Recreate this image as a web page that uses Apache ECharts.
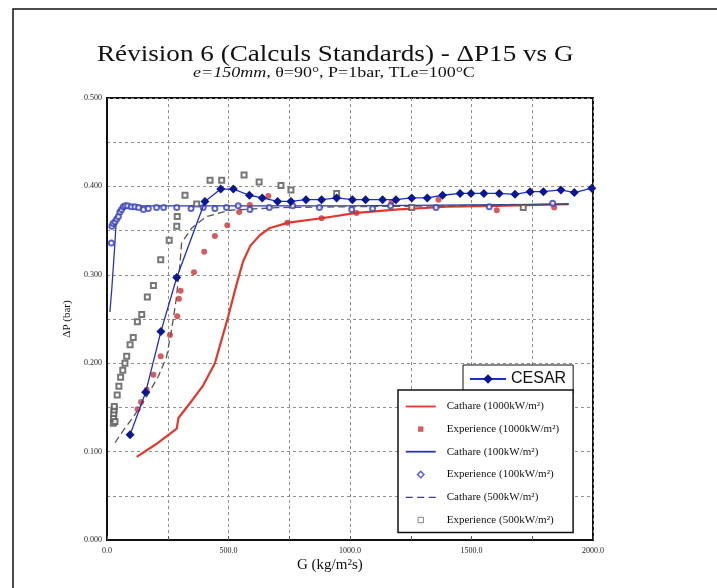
<!DOCTYPE html>
<html>
<head>
<meta charset="utf-8">
<script src="https://cdn.jsdelivr.net/npm/echarts@6/dist/echarts.min.js"></script>
<style>
  html, body { margin: 0; padding: 0; background: #fff; }
  #chart { width: 717px; height: 588px; }
</style>
</head>
<body>
<div id="chart"></div>
<script>
// G (kg/m2s) / dP (bar)
const cesarG = [95, 159, 222, 287, 403, 468, 520, 586, 639, 702, 757, 819, 883, 945, 1010, 1064, 1134, 1189, 1254, 1318, 1381, 1453, 1498, 1551, 1614, 1679, 1741, 1796, 1868, 1923, 1995]
const cesarP = [0.119, 0.167, 0.236, 0.297, 0.383, 0.397, 0.397, 0.390, 0.387, 0.383, 0.383, 0.385, 0.385, 0.387, 0.385, 0.385, 0.385, 0.385, 0.387, 0.387, 0.390, 0.392, 0.392, 0.392, 0.392, 0.391, 0.394, 0.394, 0.396, 0.393, 0.398]

const cath1000G = [122, 200, 287, 294, 342, 396, 444, 499, 534, 560, 590, 630, 671, 746, 883, 1027, 1200, 1400, 1600, 1900]
const cath1000P = [0.094, 0.108, 0.126, 0.138, 0.155, 0.175, 0.200, 0.253, 0.290, 0.315, 0.333, 0.345, 0.353, 0.359, 0.364, 0.370, 0.374, 0.377, 0.378, 0.380]

const exp1000G = [126, 140, 163, 191, 221, 259, 289, 296, 303, 358, 400, 444, 495, 544, 588, 664, 742, 883, 1027, 1171, 1364, 1604, 1840]
const exp1000P = [0.148, 0.156, 0.170, 0.187, 0.208, 0.232, 0.253, 0.273, 0.282, 0.303, 0.326, 0.344, 0.356, 0.371, 0.379, 0.389, 0.359, 0.364, 0.370, 0.382, 0.385, 0.373, 0.376]

const cath100G = [12, 20, 30, 38, 45, 60, 100, 300, 600, 1000, 1500, 1900]
const cath100P = [0.258, 0.285, 0.325, 0.360, 0.372, 0.377, 0.378, 0.378, 0.378, 0.378, 0.379, 0.380]

const exp100G = [18, 20, 25, 33, 40, 47, 53, 60, 67, 75, 85, 100, 115, 130, 150, 170, 204, 233, 287, 346, 396, 444, 492, 540, 588, 668, 764, 874, 1007, 1093, 1167, 1354, 1573, 1834]
const exp100P = [0.336, 0.355, 0.358, 0.360, 0.363, 0.366, 0.371, 0.374, 0.377, 0.378, 0.378, 0.377, 0.377, 0.376, 0.374, 0.375, 0.376, 0.376, 0.376, 0.375, 0.376, 0.375, 0.376, 0.378, 0.374, 0.376, 0.378, 0.376, 0.374, 0.375, 0.378, 0.376, 0.377, 0.381]

const cath500G = [33, 67, 108, 163, 211, 245, 266, 284, 298, 307, 349, 410, 506, 700, 1000, 1400, 1900]
const cath500P = [0.110, 0.124, 0.139, 0.162, 0.185, 0.207, 0.238, 0.271, 0.305, 0.336, 0.353, 0.366, 0.373, 0.376, 0.377, 0.378, 0.380]

const exp500G = [26, 27, 28, 29, 30, 33, 42, 49, 56, 65, 74, 81, 95, 108, 125, 143, 166, 191, 221, 256, 287, 289, 321, 369, 424, 472, 564, 626, 716, 757, 945, 1254, 1713]
const exp500P = [0.132, 0.138, 0.143, 0.147, 0.151, 0.134, 0.164, 0.174, 0.184, 0.192, 0.200, 0.208, 0.221, 0.229, 0.247, 0.255, 0.275, 0.288, 0.317, 0.339, 0.355, 0.366, 0.390, 0.380, 0.407, 0.407, 0.413, 0.405, 0.401, 0.396, 0.392, 0.376, 0.376]

const legendNames = [
  'Cathare (1000kW/m²)',
  'Experience (1000kW/m²)',
  'Cathare (100kW/m²)',
  'Experience (100kW/m²)',
  'Cathare (500kW/m²)',
  'Experience (500kW/m²)'
]

const serif = 'Liberation Serif'
const zip = (xs, ys) => xs.map((x, i) => [x, ys[i]])

// legend icons: the two leading moveTo's pin the box to 30x10 so nothing gets stretched
const box = 'path://M0,0M30,10'
const iconLine = box + 'M0,4.1h30v1.8h-30z'
const iconDash = box + 'M0,4.3h7v1.4h-7zM11.5,4.3h7v1.4h-7zM23,4.3h7v1.4h-7z'
const iconSquare = box + 'M12.3,2.3h5.4v5.4h-5.4z'
const iconDiamond = box + 'M15,1.8l3.2,3.2l-3.2,3.2l-3.2,-3.2z'

const chart = echarts.init(document.getElementById('chart'))
const option = {
  backgroundColor: '#fff',
  animation: false,
  graphic: [
    {
      type: 'rect',
      shape: { x: 13, y: 9, width: 720, height: 600 },
      style: { fill: 'none', stroke: '#111', lineWidth: 1.5 },
      silent: true
    },
    {
      type: 'text',
      x: 97, y: 43, scaleX: 1.18,
      style: { text: 'Révision 6 (Calculs Standards) - ΔP15 vs G', font: '23px "Liberation Serif"', fill: '#111' }
    },
    {
      type: 'text',
      x: 193, y: 66, scaleX: 1.2,
      style: {
        text: '{i|e=150mm}, θ=90°, P=1bar, TLe=100°C',
        font: '15px "Liberation Serif"',
        fill: '#111',
        rich: { i: { fontStyle: 'italic', fontFamily: serif, fontSize: 15, fill: '#111' } }
      }
    },
    {
      type: 'text',
      left: 297, top: 558,
      style: { text: 'G (kg/m²s)', font: '15px "Liberation Serif"', fill: '#111' }
    }
  ],
  legend: [
    {
      data: ['CESAR'],
      left: 463, top: 365,
      backgroundColor: '#fff',
      borderColor: '#111', borderWidth: 1,
      padding: [6, 7, 6, 6],
      itemWidth: 36, itemHeight: 12,
      textStyle: { fontFamily: 'Liberation Sans', fontSize: 16, color: '#111' }
    },
    {
      data: [
        { name: legendNames[0], icon: iconLine, itemStyle: { color: '#e0392b', borderWidth: 0 } },
        { name: legendNames[1], icon: iconSquare, itemStyle: { color: '#c8353a', borderWidth: 0 } },
        { name: legendNames[2], icon: iconLine, itemStyle: { color: '#2a35b0', borderWidth: 0 } },
        { name: legendNames[3], icon: iconDiamond, itemStyle: { color: '#fff', borderColor: '#3540b5', borderWidth: 1.5 } },
        { name: legendNames[4], icon: iconDash, itemStyle: { color: '#3a3f88', borderWidth: 0 } },
        { name: legendNames[5], icon: iconSquare, itemStyle: { color: '#fff', borderColor: '#666', borderWidth: 1 } }
      ],
      orient: 'vertical',
      left: 398, top: 390,
      backgroundColor: '#fff',
      borderColor: '#111', borderWidth: 1.5,
      padding: [11, 14, 7, 7],
      itemGap: 11.6,
      itemWidth: 30, itemHeight: 10,
      textStyle: { fontFamily: serif, fontSize: 11, color: '#111', padding: [0, 0, 0, 6] }
    }
  ],
  grid: { left: 107, right: 124, top: 98, bottom: 48, show: true, borderColor: '#111', borderWidth: 2, containLabel: false },
  xAxis: {
    type: 'value', min: 0, max: 2000, interval: 250,
    axisLine: { show: true, lineStyle: { color: '#111', width: 2 } },
    axisTick: { show: true, inside: true, length: 4, lineStyle: { color: '#555' } },
    axisLabel: {
      fontFamily: serif, fontSize: 8, color: '#222', margin: 7,
      formatter: v => (v % 500 === 0 ? v.toFixed(1) : '')
    },
    splitLine: { show: true, lineStyle: { color: '#8f8f8f', type: [3, 3], width: 1 } }
  },
  yAxis: {
    type: 'value', min: 0, max: 0.5, interval: 0.05,
    name: 'ΔP (bar)', nameLocation: 'middle', nameGap: 32, nameRotate: 90,
    nameTextStyle: { fontFamily: serif, fontSize: 11, color: '#111' },
    axisLine: { show: true, lineStyle: { color: '#111', width: 2 } },
    axisTick: { show: false },
    axisLabel: {
      fontFamily: serif, fontSize: 8, color: '#222', margin: 5,
      formatter: v => (Math.round(v * 100) % 10 === 0 ? v.toFixed(3) : '')
    },
    splitLine: { show: true, lineStyle: { color: '#8f8f8f', type: [3, 3], width: 1 } }
  },
  series: [
    {
      name: legendNames[0], type: 'line', data: zip(cath1000G, cath1000P),
      showSymbol: false, symbol: 'none',
      lineStyle: { color: '#e0392b', width: 2.2 }, itemStyle: { color: '#e0392b' }, z: 3
    },
    {
      name: legendNames[1], type: 'scatter', data: zip(exp1000G, exp1000P),
      symbol: 'circle', symbolSize: 6,
      itemStyle: { color: '#c8353a' }, z: 4
    },
    {
      name: legendNames[2], type: 'line', data: zip(cath100G, cath100P),
      showSymbol: false, symbol: 'none',
      lineStyle: { color: '#2a35b0', width: 1.3 }, itemStyle: { color: '#2a35b0' }, z: 3
    },
    {
      name: legendNames[3], type: 'scatter', data: zip(exp100G, exp100P),
      symbol: 'emptyCircle', symbolSize: 5,
      itemStyle: { color: '#3540b5', borderWidth: 1.4 }, z: 4
    },
    {
      name: legendNames[4], type: 'line', data: zip(cath500G, cath500P),
      showSymbol: false, symbol: 'none',
      lineStyle: { color: '#555', width: 1.3, type: [7, 4] }, itemStyle: { color: '#555' }, z: 3
    },
    {
      name: legendNames[5], type: 'scatter', data: zip(exp500G, exp500P),
      symbol: 'emptyRect', symbolSize: 5,
      itemStyle: { color: '#555', borderWidth: 1 }, z: 4
    },
    {
      name: 'CESAR', type: 'line', data: zip(cesarG, cesarP),
      symbol: 'diamond', symbolSize: 9,
      lineStyle: { color: '#1a2ec8', width: 1.3 },
      itemStyle: { color: '#0a1890' }, z: 6
    }
  ]
}
chart.setOption(option)
</script>
</body>
</html>
